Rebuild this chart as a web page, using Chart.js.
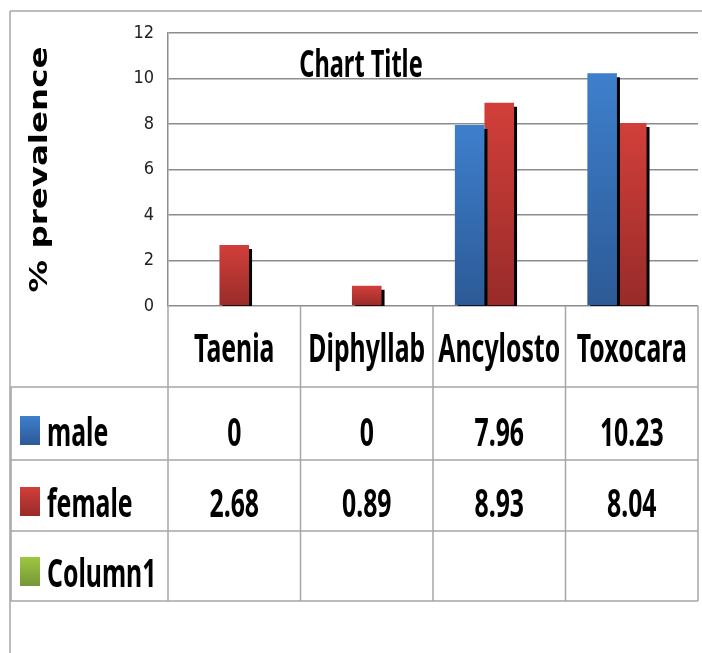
<!DOCTYPE html>
<html>
<head>
<meta charset="utf-8">
<script src="https://cdn.jsdelivr.net/npm/chart.js@4/dist/chart.umd.min.js"></script>
<style>
  html, body { margin: 0; padding: 0; background: #fff; }
  canvas { display: block; }
</style>
</head>
<body>
<canvas id="grafico" width="702" height="653"></canvas>
<script>
const categories = ['Taenia', 'Diphyllab', 'Ancylosto', 'Toxocara'];
const seriesNames = ['male', 'female', 'Column1'];
const maleValues = [0, 0, 7.96, 10.23];
const femaleValues = [2.68, 0.89, 8.93, 8.04];
const column1Values = [null, null, null, null];
const yTicks = [0, 2, 4, 6, 8, 10, 12];
const chartTitle = 'Chart Title';
const yTitle = '% prevalence';

const TEXT = '"Noto Sans", sans-serif';
const TICKS = '"DejaVu Sans Condensed", "DejaVu Sans", sans-serif';
const WIDE = '"DejaVu Sans", Verdana, sans-serif';
const GRID = '#8c8c8c';
const LINE = '#a6a6a6';
const SQUISH = 0.62; // the original text is narrow and tall

const palette = {
    male: ['#3e7fcd', '#2c5a96'],
    female: ['#d23f3a', '#982b29'],
    Column1: ['#9dc83f', '#759638'],
};

// vertical gradient per bar, light at the top, darker at the base
function barFill(name) {
    return (ctx) => {
        const chart = ctx.chart;
        const y = chart.scales.y;
        if (!chart.chartArea || !ctx.parsed || ctx.parsed.y == null) return palette[name][0];
        const top = y.getPixelForValue(ctx.parsed.y);
        const base = y.getPixelForValue(0);
        if (Math.abs(base - top) < 1) return palette[name][0];
        const g = chart.ctx.createLinearGradient(0, top, 0, base);
        g.addColorStop(0, palette[name][0]);
        g.addColorStop(1, palette[name][1]);
        return g;
    };
}

const barShadow = {
    id: 'barShadow',
    beforeDatasetDraw(chart) {
        const c = chart.ctx;
        c.save();
        c.shadowColor = '#000';
        c.shadowOffsetX = 3;
        c.shadowOffsetY = 4;
        c.shadowBlur = 0;
    },
    afterDatasetDraw(chart) {
        chart.ctx.restore();
    },
};

function line(c, x1, y1, x2, y2) {
    c.beginPath();
    c.moveTo(x1, y1);
    c.lineTo(x2, y2);
    c.stroke();
}

function squishText(c, text, x, y, size, align) {
    c.save();
    c.font = 'bold ' + size + 'px ' + TEXT;
    c.textAlign = align;
    c.textBaseline = 'alphabetic';
    c.fillStyle = '#000';
    c.translate(x, y);
    c.scale(SQUISH, 1);
    c.fillText(text, 0, 0);
    c.restore();
}

const dataTable = {
    id: 'dataTable',
    afterDraw(chart) {
        const c = chart.ctx;
        const area = chart.chartArea;
        const x = chart.scales.x;
        const colW = (area.right - area.left) / categories.length;
        const headBottom = 387;
        const rowBottoms = [460, 531, 601];
        const tableBottom = rowBottoms[rowBottoms.length - 1];
        const rows = [maleValues, femaleValues, column1Values];

        c.save();
        c.strokeStyle = LINE;
        c.lineWidth = 1.5;
        // outer chart border
        line(c, 10, 11, 702, 11);
        line(c, 10, 11, 10, 653);
        // column separators and row rules
        for (let i = 0; i <= categories.length; i++) {
            const bx = area.left + i * colW;
            line(c, bx, area.bottom, bx, tableBottom);
        }
        line(c, 11, headBottom, 11, tableBottom);
        line(c, 11, headBottom, area.right, headBottom);
        rowBottoms.forEach((rb) => line(c, 11, rb, area.right, rb));

        // category header
        categories.forEach((cat, i) => squishText(c, cat, x.getPixelForValue(i), headBottom - 25, 40, 'center'));

        // legend keys, series names and values
        rows.forEach((vals, r) => {
            const name = seriesNames[r];
            const base = rowBottoms[r] - 14;
            const g = c.createLinearGradient(0, base - 30, 0, base - 1);
            g.addColorStop(0, palette[name][0]);
            g.addColorStop(1, palette[name][1]);
            c.fillStyle = g;
            c.fillRect(20, base - 30, 20, 29);
            squishText(c, name, 47, base, 40, 'left');
            vals.forEach((v, i) => {
                if (v == null) return;
                squishText(c, String(v), x.getPixelForValue(i), base, 40, 'center');
            });
        });

        // chart title
        squishText(c, chartTitle, 361, 77, 38, 'center');

        // y axis title, stretched along its length like the original
        c.fillStyle = '#000';
        c.textAlign = 'center';
        c.textBaseline = 'middle';
        c.translate(40, (area.top + area.bottom) / 2);
        c.rotate(-Math.PI / 2);
        c.scale(1.3, 1);
        c.font = 'bold 25px ' + WIDE;
        c.fillText(yTitle, 0, 0);
        c.restore();
    },
};

new Chart(document.getElementById('grafico').getContext('2d'), {
    type: 'bar',
    data: {
        labels: categories,
        datasets: [
            { label: seriesNames[0], data: maleValues, backgroundColor: barFill('male') },
            { label: seriesNames[1], data: femaleValues, backgroundColor: barFill('female') },
            { label: seriesNames[2], data: column1Values, backgroundColor: barFill('Column1') },
        ],
    },
    options: {
        responsive: false,
        animation: false,
        events: [],
        datasets: { bar: { categoryPercentage: 0.67, barPercentage: 1, borderWidth: 0 } },
        layout: { padding: { left: 10, top: 33, right: 4, bottom: 0 } },
        plugins: {
            legend: { display: false },
            title: { display: false },
            tooltip: { enabled: false },
        },
        scales: {
            x: {
                afterFit: (s) => { s.height = 347; },
                grid: { display: false, drawTicks: false },
                border: { display: false },
                ticks: { display: false },
            },
            y: {
                min: 0,
                max: 12,
                afterFit: (s) => { s.width = 158; },
                afterBuildTicks: (s) => { s.ticks = yTicks.map((v) => ({ value: v })); },
                grid: { color: GRID, lineWidth: 1.5, drawTicks: false },
                border: { color: GRID, width: 1.5 },
                ticks: { color: '#222', padding: 14, font: { family: TICKS, size: 18 } },
            },
        },
    },
    plugins: [barShadow, dataTable],
});
</script>
</body>
</html>
